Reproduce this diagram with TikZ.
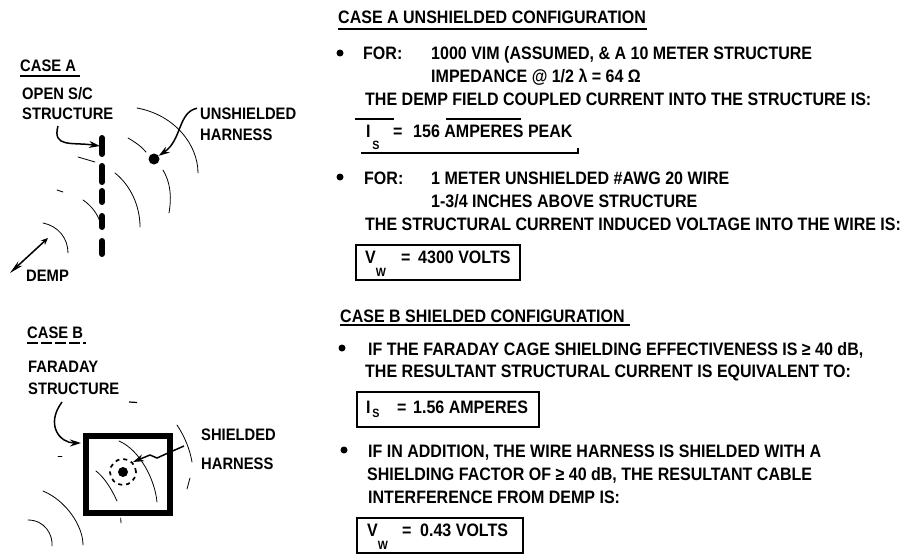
\documentclass[tikz,border=0pt]{standalone}
\usepackage{fontspec}
\setmainfont[FakeStretch=0.89]{Liberation Sans}
\usetikzlibrary{arrows.meta}
\tikzset{
  px/.style={x=1pt,y=-1pt},
  txt/.style={anchor=base west,inner sep=0pt,font=\fontsize{18}{20}\selectfont\bfseries},
  lab/.style={anchor=base west,inner sep=0pt,font=\fontsize{16.6}{18}\selectfont\bfseries},
  sub/.style={anchor=center,inner sep=0pt,font=\fontsize{12}{13}\selectfont\bfseries},
  box/.style={draw=black,line width=1.2pt},
  wave/.style={line width=0.8pt,line cap=round},
  arr/.style={line width=1.5pt,-{Stealth[length=11pt,width=7pt]}},
  bullet/.style={circle,fill=black,inner sep=0pt,minimum size=7pt},
  rulel/.style={line width=1.1pt},
  sdash/.style={line width=6pt,line cap=round}
}
\begin{document}
\begin{tikzpicture}[px]
\useasboundingbox (0,0) rectangle (901,554);
% left A
\node[lab] (caseA) at (20,71) {CASE A};
\draw[rulel] (20,76) -- (80,76);
\node[lab] (open) at (22,99) {OPEN S/C};
\node[lab] (struct) at (22,119) {STRUCTURE};
\node[lab] (unsh) at (200,119) {UNSHIELDED};
\node[lab] (harn) at (200,140) {HARNESS};
\node[lab] (demp) at (26,281) {DEMP};
\draw[sdash] (102,138) -- (102,154);
\draw[sdash] (102,166) -- (102,182);
\draw[sdash] (102,191) -- (102,202);
\draw[sdash] (102,216) -- (102,227);
\draw[sdash] (102,241) -- (102,254);
\coordinate (st) at (100,146);
\node[circle,fill=black,inner sep=0pt,minimum size=11pt] (dot) at (154,159) {};
\draw[arr] (58,126) .. controls (52,148) and (72,142) .. (st);
\draw[arr] (unsh.west) ++(-3,-5) .. controls (178,112) and (182,140) .. (dot);
\coordinate (da) at (48,238);
\coordinate (db) at (10,273);
\draw[line width=1.5pt,{Stealth[length=14pt,width=6pt]}-{Stealth[length=7pt,width=6pt]}] (db) -- (da);
\draw[wave] (137,108) .. controls (175,115) and (198,145) .. (198,173);
\draw[wave] (128,138) .. controls (135,142) and (142,147) .. (146,152);
\draw[wave] (163,170) .. controls (170,182) and (172,195) .. (169,213);
\draw[wave] (78,157) -- (95,162);
\draw[wave] (115,173) .. controls (130,185) and (140,205) .. (140,227);
\draw[wave] (57,190) -- (63,192);
\draw[wave] (83,200) .. controls (92,206) and (98,215) .. (100,222);
\draw[wave] (43,223) .. controls (58,226) and (68,238) .. (68,253);
% left B
\node[lab] (caseB) at (27,338) {CASE B};
\draw[rulel,dash pattern=on 11pt off 3pt] (27,343) -- (86,343);
\node[lab] (far) at (28,372) {FARADAY};
\node[lab] (st2) at (28,394) {STRUCTURE};
\node[lab] (shd) at (201,440) {SHIELDED};
\node[lab] (hb) at (201,469) {HARNESS};
\draw[line width=5.5pt] (86,436) rectangle (170,513);
\coordinate (cg) at (81,443);
\node[circle,fill=black,inner sep=0pt,minimum size=10pt] (dot2) at (123,472) {};
\draw[line width=1.7pt,dash pattern=on 4pt off 4pt] (dot2.center) circle (13pt);
\draw[arr] (62,402) .. controls (45,425) and (60,443) .. (cg);
\draw[arr] (184,446) -- (168,453) -- (157,458) -- (150,455) -- (133,462);
\draw[wave] (177,425) .. controls (185,437) and (190,450) .. (192,462);
\draw[wave] (190,478) -- (187,489);
\draw[wave] (119,441) .. controls (140,450) and (155,480) .. (157,502);
\draw[wave] (96,471) .. controls (105,478) and (112,490) .. (117,501);
\draw[wave] (43,491) .. controls (65,500) and (83,525) .. (83,545);
\draw[wave] (28,520) .. controls (45,520) and (53,535) .. (52,546);
\draw[wave] (120.7,518) -- (121,523);
\draw[wave] (58,456) -- (62,456);
\draw[line width=1.2pt] (129,402) -- (137,402.5);
% right A
\node[txt] (hA) at (338,23) {CASE A UNSHIELDED CONFIGURATION};
\draw[rulel] (338,29) -- (647,29);
\node[bullet] (b1) at (340,53) {};
\node[txt] (f1) at (363,59) {FOR:};
\node[txt] (l1) at (431,59) {1000 VIM (ASSUMED, \& A 10 METER STRUCTURE};
\node[txt] (l2) at (431,82) {IMPEDANCE @ 1/2 λ = 64 Ω};
\node[txt] (l3) at (365,105) {THE DEMP FIELD COUPLED CURRENT INTO THE STRUCTURE IS:};
\node[txt] (is) at (366,137) {I};
\node[sub] (iss) at (376,145) {S};
\node[txt] (isq) at (393,137) {=};
\node[txt] (isv) at (413,137) {156 AMPERES PEAK};
\draw[box] (355,119) -- (394,119);
\draw[box] (446,119) -- (521,119);
\draw[box] (361,153) -- (578,153) -- (578,148);
\node[bullet] (b2) at (340,177) {};
\node[txt] (f2) at (364,184) {FOR:};
\node[txt] (m1) at (431,184) {1 METER UNSHIELDED \#AWG 20 WIRE};
\node[txt] (m2) at (431,207) {1-3/4 INCHES ABOVE STRUCTURE};
\node[txt] (m3) at (365,230) {THE STRUCTURAL CURRENT INDUCED VOLTAGE INTO THE WIRE IS:};
\node[txt] (vw) at (365,263) {V};
\node[sub] (vws) at (381,272) {W};
\node[txt] (vwq) at (401,263) {=};
\node[txt] (vwv) at (418,263) {4300 VOLTS};
\draw[box] (356,245) rectangle (520,280);
% right B
\node[txt] (hB) at (340,322) {CASE B SHIELDED CONFIGURATION};
\draw[rulel] (340,325) -- (630,325);
\node[bullet] (b3) at (342,348) {};
\node[txt] (c1) at (368,355) {IF THE FARADAY CAGE SHIELDING EFFECTIVENESS IS ≥ 40 dB,};
\node[txt] (c2) at (365,377) {THE RESULTANT STRUCTURAL CURRENT IS EQUIVALENT TO:};
\node[txt] (i2) at (366,413) {I};
\node[sub] (i2s) at (376,413) {S};
\node[txt] (i2q) at (397,413) {=};
\node[txt] (i2v) at (413,413) {1.56 AMPERES};
\draw[box] (357,392) rectangle (539,427);
\node[bullet] (b4) at (344,450) {};
\node[txt] (d1) at (368,457) {IF IN ADDITION, THE WIRE HARNESS IS SHIELDED WITH A};
\node[txt] (d2) at (367,480) {SHIELDING FACTOR OF ≥ 40 dB, THE RESULTANT CABLE};
\node[txt] (d3) at (368,503) {INTERFERENCE FROM DEMP IS:};
\node[txt] (v2) at (367,536) {V};
\node[sub] (v2s) at (383,545) {W};
\node[txt] (v2q) at (402,536) {=};
\node[txt] (v2v) at (420,536) {0.43 VOLTS};
\draw[box] (357,518) rectangle (523,553);
\end{tikzpicture}
\end{document}
